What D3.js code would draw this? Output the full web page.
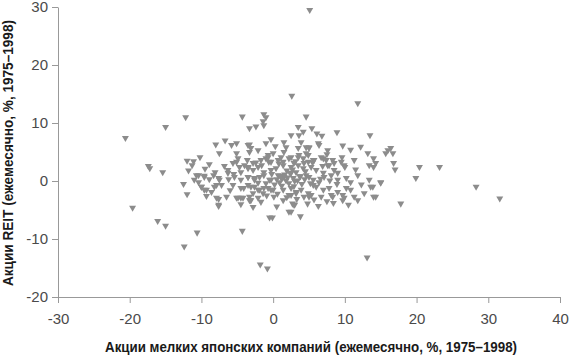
<!DOCTYPE html>
<html>
<head>
<meta charset="utf-8">
<script src="https://cdn.jsdelivr.net/npm/d3@7"></script>
<style>
  body { margin: 0; background: #fff; }
  .tick text { font-family: "Liberation Sans", Arial, sans-serif; font-size: 15px; fill: #4a4a4a; }
  .title { font-family: "Liberation Sans", Arial, sans-serif; font-weight: bold; font-size: 14.5px; fill: #1a1a1a; }
</style>
</head>
<body>
<div id="chart"></div>
<script>
const xTicks = [-30, -20, -10, 0, 10, 20, 30, 40]
const yTicks = [-20, -10, 0, 10, 20, 30]
const xTitle = 'Акции мелких японских компаний (ежемесячно, %, 1975–1998)'
const yTitle = 'Акции REIT (ежемесячно, %, 1975–1998)'

// small-cap Japanese stocks, monthly %
const smallCap = [
  5.1, 2.6, 11.8, -20.6, -15, -12.2, -17.4, -17.2, -15.4, -19.6, -16.1, -15, -12.4, -10.6, -4.3, -1.8, -0.8, 13.1, -0.5, -0.1,
  2.2, 3.8, -7.6, 3, 28.3, 31.6, 17.8, 20.4, 23.2, 19.9, 15, 13.9, 14.3,
  -4.3, -1.3, -1, -1.4, -1.3, -3.3, -2.4, 4.6, 3.5, 5.4, 6.1, 8.9, 13.5, -6.7, -5.8, -5.1, 1.5, 1.8, 1.5, 2.5, 3.6, 3.9,
  5, 6.3, 7.6, 7.5, -3.3, -3.1, -2.1, -0.7, 0, 1.1, 2.5, 3.6, 4.6, 4.9, 5.6, 7, 8.3, 9.5, 9.6, 11.3, 13.2, 14, 14.3, 13.4,
  14, 16, 16.7, 16.4, 15.7, 16.8, 17, -3.6, -3.5,
  -11.1, -11.3, -10.2, -8.9, -7.5, -11, -10.4, -10.4, -9.6, -8.9, -10, -9.6, -8.6, -7.9, -7.5, -7.6, -6.5, -6.8, -5.6, -5.1,
  -4.9, -4.9, -4.2, -5.6, -3.5, -3.3, -3.5, -2.8, -3.3, -3.2, -2.6, -2.1, -2.1,
  -1, -0.6, 1.4, 2.5, 3.5, 4.3, 5.3, 6, 7, 7.6, 8.5, 9, 10.2, 10.8, 13.4, 13.6, 15, -4.5, -3.5, -2.6, -1.9, -1.3,
  -0.3, 0.4, 0.7, 1.5, 2.5, 3.2, 4.2, 4.6, 5, 5.6, 6.4, 7.1, 8.1, 9,
  -3.5, -2.6, -1.9, -1.4, -0.7, 0, 1.4, 2.5, 3.2, 3.9, 4.9, 5.6, 7, 7.8, 9, 9.7, 10.2, 10.8,
  -3.1, -2.1, -1.7, 0.1, 1.4, 2.5, 4.3, 5.3, 6.7, 8.1, 9.9, 11.3, 11.8, 12.7, 14,
  0.5, 1, 1.8, 2.2, 2.8, 3.4, 4, 0.2, -0.5, -1, 1.2, 2.9, 3.7, 4.4, 5.2, 6, 6.6, -0.2, 1.9, 2.7,
  3.1, 0.8, -1.6, -2.4, -0.9, 0.6, 1.9, 3.3, 5.7, 7.5, -5.5, -6.2, -4.1, -6, -8.1, -9.3, -4.5, -2.8, 0.5, 2.7,
  4.8, 6.3, 8.4, 10.5, 11.8, 12.3, 10, 11.5, 8.9, 7.9, 6.9, 5.5, -1, 0.3, -0.3, 4.2, 6.8, 9.7, 10.8, 12.2,
  -8, -9.5, -12, -12.5, -12, -11.8,
  -6.3, -5.1, -4.7, -4, -3.5, -2.8, -2.1, -1.7, -0.7, -0.3, -10.7, -9.6, -8.3, -7.6, -6.3, -5.4, -4.5, -3.5, -2.6, -1.3,
  -0.3, -10, -9.3, -8.2, -7.2, -4.5, -3.1, -1.3, -0.3, -7.9, -5.1, -4.5, -3.3, -2.8, -7.6,
  3.5, 4.6, 5, 6.4, 0.7, 1.4, 2.2, 2.9, 3.5, 4.2, 4.9, 5.7, 6.7, 7.4, 7.8, 8.5, 9.9, 2.5, 2.9, 9.7, 8.3, 5, 3.2, 2.2,
  1.2, 2, 3, 0.9, 1.6, 2.4, 3.8, 4.5
]

// REIT returns, monthly %, same order
const reit = [
  29.5, 14.7, 13.4, 7.4, 9.3, 11, 2.6, 2.2, 1.5, -4.6, -6.9, -7.7, -11.3, -8.9, -8.6, -14.4, -15.1, -13.2, -6.3, -6.3,
  -5.3, -6.1, -4.3, -4.1, -1, -3, -3.9, 2.4, 2.4, 0.5, -0.3, -1, -2.7,
  11.1, 11.5, 11, 10.3, 9.6, 9.1, 9.4, 11.1, 9.3, 9.1, 8.2, 8.4, 7.9, 7, 6.2, 6.5, 6.7, 5.8, 5, 7.9, 7.9, 6.7,
  5.8, 6.5, 5.3, 4.6, 6.3, 5.7, 5.3, 4.5, 4.8, 4.1, 4.1, 4.5, 4.8, 4.5, 3.6, 3.9, 3.6, 3.3, 4.1, 3.6, 4.8, 3.9, 3.1, 2.7,
  2.4, 5.3, 4.8, 5.7, 4.8, 3.1, 2, 3.6, 2.4,
  3.4, 2.7, 4.1, 2.9, 4.8, 0.2, -0.2, 1, 0.9, 0.3, -1, -1.5, -1.9, -0.7, 0.2, -3.1, -2.7, 2.6, 3.1, 4.8,
  3.9, -2.9, -2.9, -0.7, 6.2, 5, 2.4, 1.9, -2.7, -3.3, 0.5, -0.3, -1.5,
  3.9, 3.3, 2.7, 2.4, 2.7, 3.1, 2.4, 1.9, 1.4, 2.7, 1.9, 1.4, 0.5, -0.2, 0.2, -1, -0.2, 1.5, 0.7, 0.2, 0.7, 1.5,
  1.9, 2.2, 1, 0.7, 1.4, 1.5, 2.2, 1, 0.7, 0.2, -0.2, 0.7, 1, 0.2,
  -0.7, -1, -1.5, -2.1, -1.2, -1.5, -1.5, -1.2, -1.9, -1.5, -2.1, -0.7, -1.5, -1.2, -1.9, -2.4, -1.2, -1.5,
  -3.3, -2.9, -3.6, -2.7, -3.3, -2.4, -2.7, -2.4, -2.7, -2.4, -2.9, -2.7, -3.3, -2.1, -2.7,
  0.3, 0.9, 0.1, -0.4, 0.5, 0.1, -0.5, -0.6, 0.2, -0.4, -0.8, -0.9, 0.8, 0.3, -0.4, -1, 0.4, 1.2, 1.8, 2,
  3.4, 3, 2.7, 3.2, -2.5, -2.2, -2.8, -3.1, -3.2, -3.5, 1.2, 0.3, -1.2, -1.6, 1.5, -2.6, -4, -4.5, -4.4, -3.9,
  -3.9, -4.3, -3.8, -4.1, 1, -0.6, 2.4, 2, -0.5, 0.1, 2.6, 3.2, 6.5, 6, 7.2, 8.5, 7.8, 6.1, 5.4, 5.9,
  6.3, 2.1, 3.5, -0.5, -2.3, 1.8,
  1.9, 3.3, 2.4, 2.7, 2.2, 3.1, 2.4, 3.6, 4.1, 3.3, 1, 0.7, 1, 0.5, 1.4, 0.7, 0.2, 0.7, 0.5, 1,
  0.2, -1, -1.5, -1, -0.7, -1.2, -1, -1.2, -1.5, -2.9, -2.9, -2.9, -3.3, -2.1, -4.1,
  5.7, 5.8, 5.7, 6.2, 3.6, 3.3, 3.9, 3.1, 4.1, 3.9, 3.3, 3.6, 4.1, 3.6, 2.7, 3.1, 2.7, -5.3, -4.1, -3.3, -2.7, -2.7, -2.1, -2.4,
  0.4, 0.6, 0, -0.2, 1.1, 1.3, 0.8, 1.7
]

const points = smallCap.map((d, i) => ({ x: d, y: reit[i] }))

const width = 570
const height = 355
const margin = { top: 7, left: 58, right: 10, bottom: 58 }

const svg = d3
  .select('#chart')
  .append('svg')
  .attr('width', width)
  .attr('height', height)

const x = d3.scaleLinear().domain([-30, 40]).range([margin.left, width - margin.right])
const y = d3.scaleLinear().domain([-20, 30]).range([height - margin.bottom, margin.top])

svg
  .append('g')
  .attr('transform', `translate(0,${height - margin.bottom})`)
  .call(d3.axisBottom(x).tickValues(xTicks).tickSize(6).tickPadding(10).tickSizeOuter(0).tickFormat(d => d))

svg
  .append('g')
  .attr('transform', `translate(${margin.left},0)`)
  .call(d3.axisLeft(y).tickValues(yTicks).tickSize(6).tickPadding(4).tickSizeOuter(0).tickFormat(d => d))

svg.selectAll('.domain, .tick line').attr('stroke', '#999')

// points
const tri = d3.symbol().type(d3.symbolTriangle).size(21)
svg
  .append('g')
  .selectAll('path')
  .data(points)
  .enter()
  .append('path')
  .attr('d', tri)
  .attr('fill', '#8c8c8c')
  .attr('transform', d => `translate(${x(d.x)},${y(d.y)}) rotate(180)`)

svg
  .append('text')
  .attr('class', 'title')
  .attr('x', 311)
  .attr('y', 352)
  .attr('text-anchor', 'middle')
  .attr('textLength', 412)
  .attr('lengthAdjust', 'spacingAndGlyphs')
  .text(xTitle)

svg
  .append('text')
  .attr('class', 'title')
  .attr('transform', 'translate(13,153) rotate(-90)')
  .attr('text-anchor', 'middle')
  .attr('textLength', 266)
  .attr('lengthAdjust', 'spacingAndGlyphs')
  .text(yTitle)
</script>
</body>
</html>
